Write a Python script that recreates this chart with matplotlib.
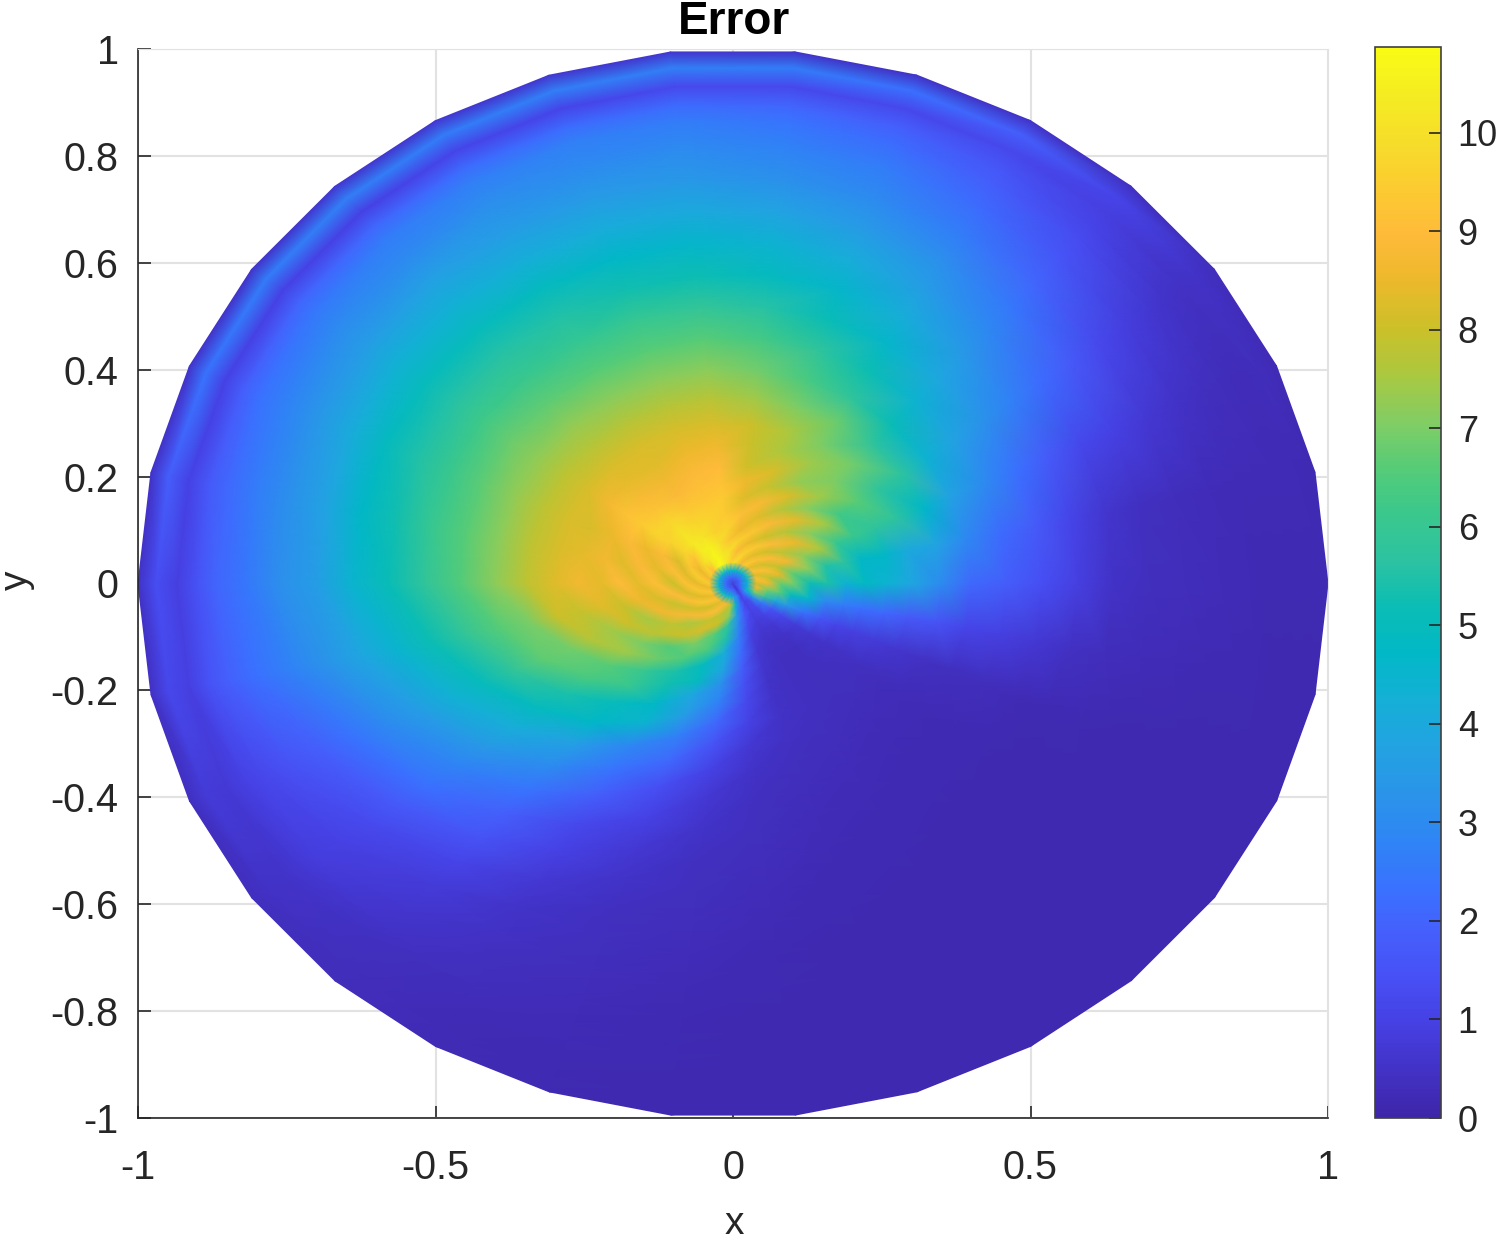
"""Error field on the unit disc, polar mesh with 12 degree spokes."""
import numpy as np
import matplotlib
matplotlib.use("Agg")
import matplotlib.pyplot as plt
from matplotlib.colors import LinearSegmentedColormap

plt.rcParams["font.family"] = ["Liberation Sans", "DejaVu Sans"]
plt.rcParams["axes.unicode_minus"] = False

angles_deg = [0, 12, 24, 36, 48, 60, 72, 84, 96, 108, 120, 132, 144, 156, 168,
              180, 192, 204, 216, 228, 240, 252, 264, 276, 288, 300, 312, 324, 336, 348]
radii = [0.0, 0.012, 0.025, 0.04, 0.06, 0.08, 0.10, 0.13, 0.16, 0.19, 0.22, 0.26, 0.30, 0.35,
         0.40, 0.46, 0.52, 0.58, 0.64, 0.70, 0.76, 0.82, 0.87, 0.90, 0.935, 0.97, 1.0]

# one row per radius, one column per angle
error = [
    [0.5] * 30,
    [2.0, 2.2, 2.0, 2.2, 2.0, 2.2, 2.0, 2.2, 2.0, 2.2, 2.0, 2.2, 2.0, 2.2, 2.0, 2.2, 2.0, 2.2, 2.0, 2.2, 2.0, 2.2, 2.0, 1.8, 1.4, 0.6, 1.2, 1.6, 1.9, 2.1],
    [4.2, 5.0, 4.2, 5.0, 4.2, 5.0, 4.2, 5.0, 4.2, 5.0, 4.2, 5.0, 4.2, 5.0, 4.2, 5.0, 4.2, 5.0, 4.2, 5.0, 4.2, 5.0, 4.2, 3.4, 2.6, 1.0, 2.0, 3.4, 4.6, 4.4],
    [8.2, 9.1, 8.3, 9.1, 8.4, 9.4, 8.8, 9.9, 9.6, 10.3, 10.8, 10.3, 9.0, 9.5, 8.7, 9.4, 8.5, 9.3, 8.5, 9.2, 8.4, 8.8, 7.8, 4.5, 2.2, 1.0, 1.4, 3.5, 7.0, 8.6],
    [8.6, 7.9, 9.1, 8.1, 9.2, 8.4, 9.6, 8.9, 10.0, 10.2, 10.7, 10.3, 9.8, 8.5, 9.5, 8.4, 9.3, 8.3, 9.3, 8.1, 9.1, 7.8, 7.3, 3.5, 1.8, 1.0, 1.2, 2.6, 5.8, 6.9],
    [6.8, 8.4, 7.9, 9.0, 8.1, 9.3, 8.5, 9.6, 9.3, 10.0, 10.5, 10.4, 9.2, 9.3, 8.3, 9.2, 8.2, 9.1, 8.1, 8.9, 7.9, 8.0, 5.7, 3.0, 1.3, 0.8, 1.0, 1.6, 4.0, 6.6],
    [7.0, 6.8, 8.7, 7.8, 9.0, 8.1, 9.3, 8.6, 9.7, 9.6, 10.1, 10.3, 9.7, 8.2, 9.1, 8.0, 9.0, 7.9, 8.8, 7.6, 8.2, 6.6, 5.5, 2.6, 0.9, 0.6, 0.7, 1.2, 3.4, 5.0],
    [5.2, 7.1, 7.2, 8.5, 7.7, 8.9, 8.3, 9.1, 9.4, 9.6, 9.7, 10.1, 9.6, 8.9, 8.4, 9.1, 8.2, 8.7, 7.8, 8.0, 7.0, 6.4, 4.1, 2.2, 0.7, 0.45, 0.5, 0.8, 2.4, 4.6],
    [5.4, 5.5, 7.6, 7.1, 8.4, 7.7, 8.8, 8.3, 9.4, 9.3, 9.3, 9.7, 9.7, 8.5, 8.9, 8.4, 8.6, 7.5, 7.8, 6.5, 6.5, 4.9, 3.9, 1.7, 0.6, 0.4, 0.4, 0.6, 1.6, 2.9],
    [4.4, 5.7, 6.0, 7.5, 7.1, 8.2, 7.9, 8.6, 9.2, 9.1, 8.9, 9.2, 9.4, 8.9, 8.3, 9.0, 8.0, 8.0, 7.0, 6.8, 5.4, 4.9, 3.1, 1.4, 0.55, 0.4, 0.4, 0.5, 1.1, 2.6],
    [4.8, 4.7, 6.1, 6.2, 7.4, 7.3, 8.2, 8.1, 9.0, 8.9, 8.7, 8.8, 9.2, 8.5, 8.7, 8.4, 8.3, 7.4, 7.4, 6.0, 5.3, 3.9, 2.8, 1.2, 0.5, 0.4, 0.35, 0.45, 0.9, 2.3],
    [4.4, 4.7, 5.8, 6.6, 7.0, 7.4, 7.6, 8.0, 8.6, 8.5, 8.3, 8.4, 8.7, 8.2, 8.4, 8.7, 7.9, 7.7, 6.6, 6.0, 4.7, 3.5, 2.1, 1.0, 0.5, 0.4, 0.35, 0.4, 0.8, 2.1],
    [3.9, 4.0, 5.7, 5.8, 6.9, 7.0, 7.6, 8.0, 8.2, 8.2, 8.2, 8.2, 8.2, 8.2, 8.2, 8.3, 8.0, 6.9, 6.4, 5.0, 4.5, 2.7, 1.5, 0.7, 0.45, 0.35, 0.3, 0.3, 0.6, 1.7],
    [3.0, 3.8, 4.7, 5.7, 5.8, 6.8, 7.0, 7.4, 7.7, 7.7, 7.7, 7.7, 7.8, 7.8, 7.8, 7.8, 7.0, 6.7, 5.4, 4.7, 2.9, 2.1, 1.0, 0.5, 0.38, 0.3, 0.26, 0.26, 0.45, 1.5],
    [2.1, 2.9, 3.7, 4.4, 5.1, 5.8, 6.4, 6.9, 7.2, 7.2, 7.2, 7.3, 7.3, 7.3, 7.2, 7.2, 6.6, 5.9, 4.9, 3.7, 2.4, 1.4, 0.7, 0.42, 0.32, 0.26, 0.22, 0.22, 0.38, 1.1],
    [1.8, 2.2, 3.0, 3.7, 4.4, 5.2, 5.8, 6.3, 6.6, 6.6, 6.6, 6.7, 6.8, 6.7, 6.6, 6.5, 5.9, 5.0, 4.1, 3.0, 1.8, 1.0, 0.55, 0.36, 0.28, 0.22, 0.2, 0.2, 0.3, 0.9],
    [1.4, 1.7, 2.3, 3.2, 3.9, 4.6, 5.1, 5.6, 5.9, 6.0, 6.0, 6.1, 6.2, 6.1, 6.0, 5.8, 5.2, 4.3, 3.4, 2.4, 1.2, 0.7, 0.42, 0.3, 0.24, 0.2, 0.18, 0.18, 0.25, 0.7],
    [0.9, 1.1, 1.7, 2.7, 3.4, 4.1, 4.6, 4.9, 5.2, 5.3, 5.5, 5.6, 5.6, 5.5, 5.3, 5.1, 4.5, 3.6, 2.8, 1.9, 0.95, 0.55, 0.36, 0.26, 0.2, 0.18, 0.16, 0.16, 0.2, 0.45],
    [0.5, 0.6, 1.15, 2.2, 2.9, 3.6, 4.1, 4.4, 4.6, 4.7, 4.9, 5.0, 5.0, 4.9, 4.7, 4.5, 3.9, 3.0, 2.3, 1.5, 0.7, 0.42, 0.3, 0.22, 0.18, 0.16, 0.15, 0.15, 0.18, 0.32],
    [0.35, 0.42, 0.95, 1.7, 2.5, 3.1, 3.5, 3.8, 4.0, 4.1, 4.2, 4.3, 4.3, 4.1, 3.8, 3.6, 3.3, 2.4, 1.7, 1.1, 0.55, 0.36, 0.26, 0.2, 0.16, 0.15, 0.14, 0.14, 0.16, 0.26],
    [0.3, 0.33, 0.7, 1.2, 2.0, 2.6, 3.0, 3.2, 3.4, 3.5, 3.6, 3.7, 3.6, 3.4, 3.2, 3.15, 2.8, 1.9, 1.25, 0.8, 0.45, 0.3, 0.24, 0.18, 0.15, 0.14, 0.14, 0.14, 0.15, 0.22],
    [0.26, 0.28, 0.5, 0.85, 1.6, 2.2, 2.6, 2.8, 3.0, 3.0, 3.1, 3.0, 3.0, 2.8, 2.6, 2.5, 2.3, 1.5, 1.0, 0.6, 0.38, 0.26, 0.2, 0.16, 0.14, 0.14, 0.13, 0.13, 0.14, 0.2],
    [0.22, 0.25, 0.38, 0.65, 1.3, 1.8, 2.2, 2.4, 2.6, 2.7, 2.7, 2.6, 2.5, 2.3, 2.1, 2.0, 1.9, 1.2, 0.85, 0.5, 0.32, 0.24, 0.18, 0.15, 0.14, 0.13, 0.13, 0.13, 0.14, 0.18],
    [0.2, 0.22, 0.32, 0.55, 1.1, 1.6, 1.9, 2.0, 2.2, 2.2, 2.2, 2.1, 2.0, 1.9, 1.7, 1.5, 1.5, 1.0, 0.7, 0.42, 0.28, 0.22, 0.17, 0.14, 0.13, 0.13, 0.13, 0.13, 0.14, 0.17],
    [0.2, 0.22, 0.28, 0.45, 0.9, 1.2, 1.2, 1.2, 1.2, 1.1, 1.1, 1.0, 1.0, 1.0, 1.0, 0.9, 0.9, 0.75, 0.55, 0.36, 0.25, 0.2, 0.16, 0.14, 0.13, 0.13, 0.13, 0.13, 0.13, 0.16],
    [0.2, 0.22, 0.3, 0.5, 1.1, 1.9, 2.3, 2.6, 2.7, 2.7, 2.6, 2.7, 2.6, 2.4, 1.9, 1.4, 1.2, 0.8, 0.5, 0.33, 0.24, 0.18, 0.15, 0.14, 0.13, 0.13, 0.13, 0.13, 0.13, 0.16],
    [0.18, 0.2, 0.25, 0.3, 0.4, 0.5, 0.5, 0.55, 0.6, 0.6, 0.6, 0.6, 0.55, 0.55, 0.5, 0.5, 0.45, 0.4, 0.35, 0.3, 0.22, 0.17, 0.14, 0.13, 0.13, 0.13, 0.13, 0.13, 0.13, 0.15],
]

x_ticks = [-1, -0.5, 0, 0.5, 1]
y_ticks = [-1, -0.8, -0.6, -0.4, -0.2, 0, 0.2, 0.4, 0.6, 0.8, 1]
x_labels = ["-1", "-0.5", "0", "0.5", "1"]
y_labels = ["-1", "-0.8", "-0.6", "-0.4", "-0.2", "0", "0.2", "0.4", "0.6", "0.8", "1"]
cbar_ticks = list(range(11))
err_max = 10.87

PARULA = ["#3e26a8", "#4232c6", "#4640e3", "#4750f5", "#4560fc", "#3873ff", "#2f86f4", "#2a95e8",
          "#22a3e2", "#14b0d6", "#01b8c6", "#0bbdb4", "#2dc3a1", "#3ac88c", "#57cc77", "#83cd63",
          "#abc83f", "#ccc029", "#ecb92b", "#feba3a", "#fccb31", "#f6dd2a", "#f5ec23", "#f9fb15"]
cmap = LinearSegmentedColormap.from_list("parula", PARULA, N=256)

th = np.deg2rad(angles_deg + [360])
R, T = np.meshgrid(radii, th, indexing="ij")
Z = np.array(error)
Z = np.hstack([Z, Z[:, :1]])

# split each quad along the spiral direction so the ridges read as arcs
nr, nt = R.shape
tris = []
for i in range(nr - 1):
    for j in range(nt - 1):
        a, b = i * nt + j, i * nt + j + 1
        c, d = (i + 1) * nt + j + 1, (i + 1) * nt + j
        tris += [[a, b, d], [b, c, d]]

W, H = 1500, 1242
DARK = "#262626"
fig = plt.figure(figsize=(W / 100, H / 100), dpi=100)
ax = fig.add_axes([138 / W, 1 - 1118 / H, (1328 - 138) / W, (1118 - 49) / H])
m = ax.tripcolor((R * np.cos(T)).ravel(), (R * np.sin(T)).ravel(), tris, Z.ravel(),
                 shading="gouraud", cmap=cmap, vmin=0, vmax=err_max, zorder=2)
ax.set_xlim(-1, 1); ax.set_ylim(-1, 1)
ax.set_xticks(x_ticks); ax.set_xticklabels(x_labels)
ax.set_yticks(y_ticks); ax.set_yticklabels(y_labels)
ax.grid(True, color="#e2e2e2", lw=1.5, zorder=1)
ax.set_axisbelow(True)
ax.tick_params(axis="x", direction="in", length=9, width=1.2, color=DARK, labelcolor=DARK, labelsize=28.5, pad=22)
ax.tick_params(axis="y", direction="in", length=9, width=1.2, color=DARK, labelcolor=DARK, labelsize=28.5, pad=14)
for s in ("top", "right"):
    ax.spines[s].set_color("#e2e2e2")
for s in ("left", "bottom"):
    ax.spines[s].set_color(DARK); ax.spines[s].set_linewidth(1.2)
fig.text(734 / W, 1 - 22 / H, "Error", ha="center", va="center", fontsize=33, fontweight="bold", color="black")
fig.text(734 / W, 1 - 1224 / H, "x", ha="center", va="center", fontsize=28, color=DARK)
fig.text(17 / W, 1 - 580 / H, "y", ha="center", va="center", rotation=90, fontsize=28, color=DARK)

cax = fig.add_axes([1375 / W, 1 - 1118 / H, (1441 - 1375) / W, (1118 - 47) / H])
cb = fig.colorbar(m, cax=cax)
cb.set_ticks(cbar_ticks)
cb.ax.tick_params(direction="in", length=9, width=1.2, color=DARK, labelcolor=DARK, labelsize=26, pad=12)
cb.outline.set_edgecolor("#404040"); cb.outline.set_linewidth(1.2)

fig.savefig("out.png", dpi=100)
